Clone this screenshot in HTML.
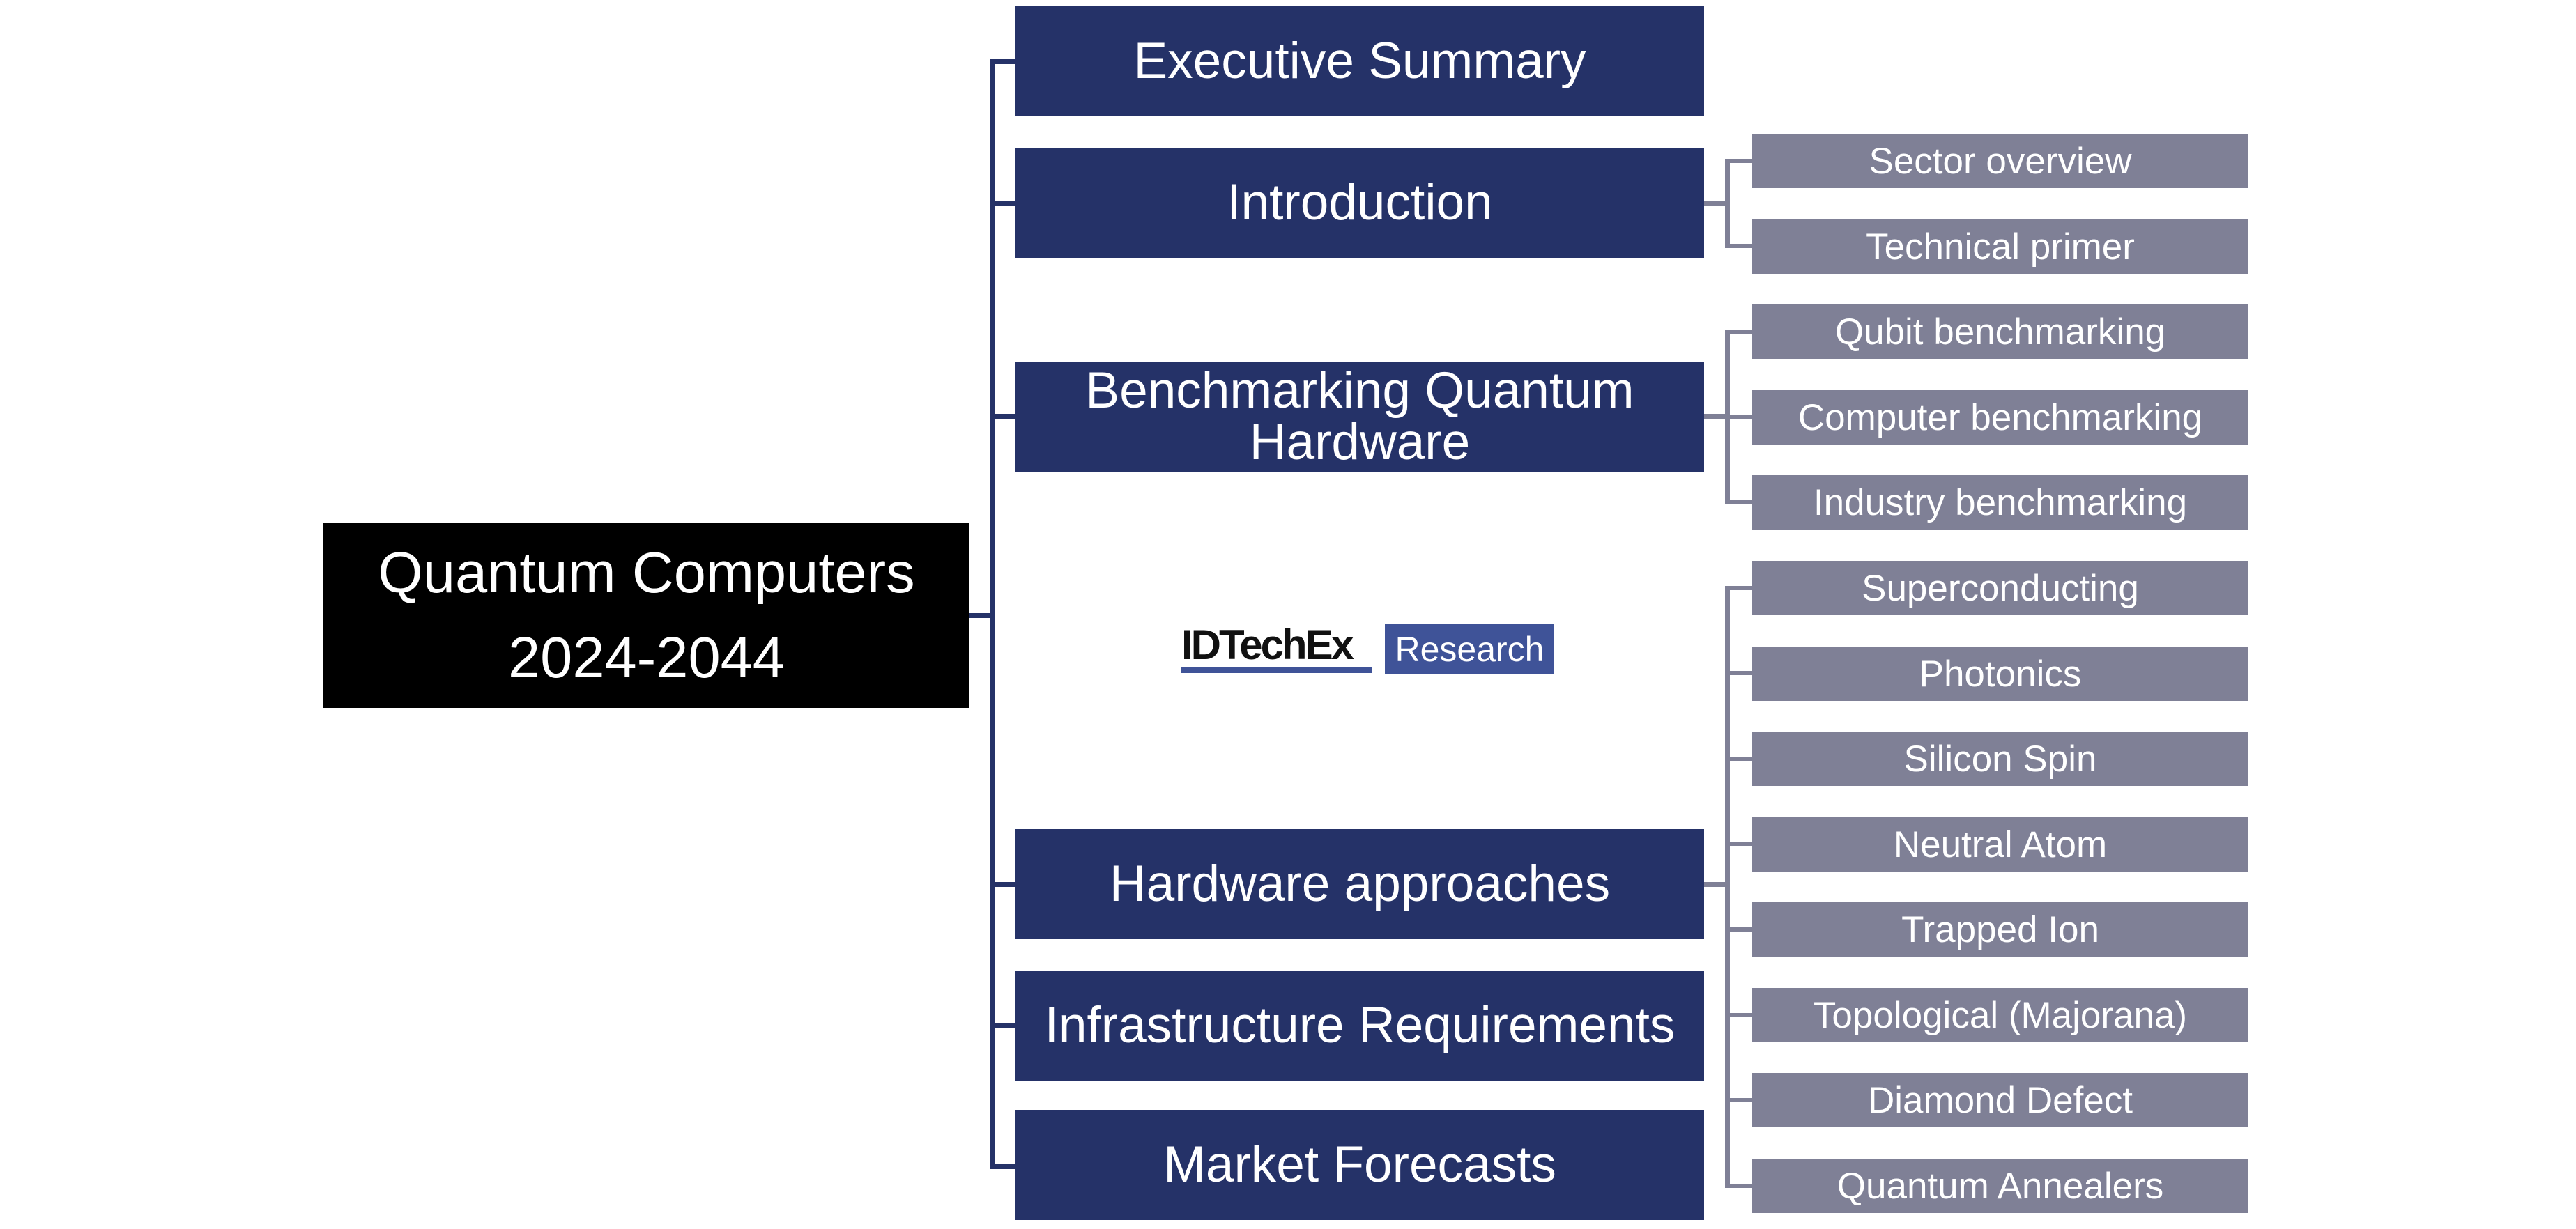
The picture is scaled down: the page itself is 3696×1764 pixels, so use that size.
<!DOCTYPE html>
<html><head><meta charset="utf-8"><style>
html,body{margin:0;padding:0;background:#fff;}
body{width:3696px;height:1764px;position:relative;overflow:hidden;font-family:"Liberation Sans",Arial,sans-serif;}
.b{position:absolute;display:flex;align-items:center;justify-content:center;text-align:center;color:#fff;}
.blue{background:#253268;left:1457px;width:988px;height:158px;font-size:73px;line-height:76px;}
.grey{background:#7f8096;left:2514px;width:712px;height:78px;font-size:53px;}
.l{position:absolute;}
.lb{background:#253268;}
.lg{background:#7f8096;}
</style></head><body>
<div class="b" style="left:464px;top:750px;width:927px;height:266px;background:#000;font-size:83px;line-height:122px;">Quantum Computers<br>2024-2044</div>

<div class="l lb" style="left:1391px;top:880px;width:36px;height:7px;"></div>
<div class="l lb" style="left:1420px;top:85px;width:7px;height:1593px;"></div>
<div class="l lb" style="left:1420px;top:85px;width:37px;height:7px;"></div>
<div class="l lb" style="left:1420px;top:288px;width:37px;height:7px;"></div>
<div class="l lb" style="left:1420px;top:594px;width:37px;height:7px;"></div>
<div class="l lb" style="left:1420px;top:1266px;width:37px;height:7px;"></div>
<div class="l lb" style="left:1420px;top:1469px;width:37px;height:7px;"></div>
<div class="l lb" style="left:1420px;top:1671px;width:37px;height:7px;"></div>

<div class="b blue" style="top:9px;">Executive Summary</div>
<div class="b blue" style="top:212px;">Introduction</div>
<div class="b blue" style="top:519px;line-height:74px;">Benchmarking Quantum<br>Hardware</div>
<div class="b blue" style="top:1190px;">Hardware approaches</div>
<div class="b blue" style="top:1393px;">Infrastructure Requirements</div>
<div class="b blue" style="top:1593px;">Market Forecasts</div>

<div class="l lg" style="left:2445px;top:288px;width:35px;height:7px;"></div>
<div class="l lg" style="left:2475px;top:228px;width:7px;height:127px;"></div>
<div class="l lg" style="left:2475px;top:228px;width:39px;height:6px;"></div>
<div class="l lg" style="left:2475px;top:350px;width:39px;height:6px;"></div>

<div class="l lg" style="left:2445px;top:594px;width:35px;height:7px;"></div>
<div class="l lg" style="left:2475px;top:473px;width:7px;height:251px;"></div>
<div class="l lg" style="left:2475px;top:473px;width:39px;height:6px;"></div>
<div class="l lg" style="left:2475px;top:596px;width:39px;height:6px;"></div>
<div class="l lg" style="left:2475px;top:718px;width:39px;height:6px;"></div>

<div class="l lg" style="left:2445px;top:1266px;width:35px;height:7px;"></div>
<div class="l lg" style="left:2475px;top:841px;width:7px;height:864px;"></div>
<div class="l lg" style="left:2475px;top:841px;width:39px;height:6px;"></div>
<div class="l lg" style="left:2475px;top:963px;width:39px;height:6px;"></div>
<div class="l lg" style="left:2475px;top:1086px;width:39px;height:6px;"></div>
<div class="l lg" style="left:2475px;top:1208px;width:39px;height:6px;"></div>
<div class="l lg" style="left:2475px;top:1331px;width:39px;height:6px;"></div>
<div class="l lg" style="left:2475px;top:1454px;width:39px;height:6px;"></div>
<div class="l lg" style="left:2475px;top:1576px;width:39px;height:6px;"></div>
<div class="l lg" style="left:2475px;top:1699px;width:39px;height:6px;"></div>

<div class="b grey" style="top:192px;">Sector overview</div>
<div class="b grey" style="top:315px;">Technical primer</div>
<div class="b grey" style="top:437px;">Qubit benchmarking</div>
<div class="b grey" style="top:560px;">Computer benchmarking</div>
<div class="b grey" style="top:682px;">Industry benchmarking</div>
<div class="b grey" style="top:805px;">Superconducting</div>
<div class="b grey" style="top:928px;">Photonics</div>
<div class="b grey" style="top:1050px;">Silicon Spin</div>
<div class="b grey" style="top:1173px;">Neutral Atom</div>
<div class="b grey" style="top:1295px;">Trapped Ion</div>
<div class="b grey" style="top:1418px;">Topological (Majorana)</div>
<div class="b grey" style="top:1540px;">Diamond Defect</div>
<div class="b grey" style="top:1663px;">Quantum Annealers</div>

<div class="l" style="left:1695px;top:898px;width:275px;height:56px;font-size:60px;font-weight:bold;color:#111;letter-spacing:-3px;line-height:56px;">IDTechEx</div>
<div class="l" style="left:1695px;top:958px;width:273px;height:8px;background:#3f5398;"></div>
<div class="b" style="left:1987px;top:896px;width:243px;height:71px;background:#3f5398;font-size:50px;">Research</div>
</body></html>
